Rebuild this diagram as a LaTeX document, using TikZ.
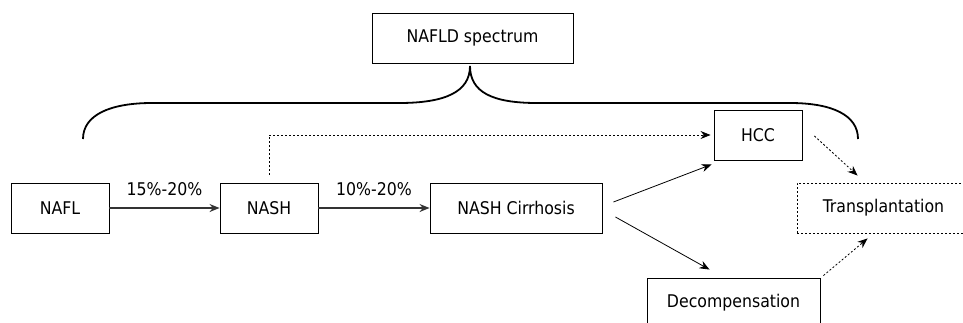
\documentclass[tikz,border=0pt]{standalone}
\usepackage{fontspec}
\setmainfont{DejaVu Sans Condensed}
\usetikzlibrary{arrows.meta,calc}

\begin{document}
\begin{tikzpicture}[x=1pt,y=-1pt,
  box/.style={draw,line width=0.9pt,minimum height=50pt,inner sep=0pt,
              font=\fontsize{17.5}{20}\selectfont},
  flow/.style={-{Stealth[length=10pt,width=8pt]},line width=1.3pt,draw=black!80},
  link/.style={-{Stealth[length=10pt,width=8pt]},line width=0.8pt},
  maybe/.style={link,dash pattern=on 2pt off 2pt},
  pct/.style={font=\fontsize{17.5}{20}\selectfont,inner sep=0pt}]
\clip (0,0) rectangle (963,322);

\node[box,minimum width=201pt] (spec)  at (472.5,38) {NAFLD spectrum};
\node[box,minimum width=98pt]  (nafl)  at (60,208)   {NAFL};
\node[box,minimum width=98pt]  (nash)  at (269,208)  {NASH};
\node[box,minimum width=172pt] (cirr)  at (516,208)  {NASH Cirrhosis};
\node[box,minimum width=88pt]  (hcc)   at (758,135)  {HCC};
\node[box,minimum width=173pt,dash pattern=on 2pt off 2pt] (trans) at (883.5,208) {Transplantation};
\node[box,minimum width=173pt] (decomp) at (733.5,303) {Decompensation};

% brace over the spectrum
\coordinate (tip) at (470,66);
\draw[line width=1.8pt] (83,139) .. controls (83,115) and (110,103) .. (152,103)
  -- (399,103) .. controls (445,103) and (470,92) .. (tip)
  .. controls (470,92) and (492,103) .. (537,103)
  -- (790,103) .. controls (832,103) and (858,115) .. (858,139);

\draw[flow] (nafl) -- node[pct,above=12pt] {15\%-20\%} (nash);
\draw[flow] (nash) -- node[pct,above=12pt] {10\%-20\%} (cirr);
\draw[maybe,shorten <=8pt,shorten >=3pt] (nash.north) |- (hcc.west);
\draw[link] ([xshift=11pt,yshift=6pt]cirr.east) -- ([xshift=-2pt,yshift=-4pt]hcc.south west);
\draw[link] ([xshift=13pt,yshift=-9pt]cirr.east) -- ([xshift=-24pt,yshift=8pt]decomp.north);
\draw[maybe] ([xshift=12pt,yshift=-1pt]hcc.east) -- ([xshift=61pt,yshift=7pt]trans.north west);
\draw[maybe] ([xshift=3pt,yshift=2pt]decomp.north east) -- ([xshift=71pt,yshift=-5pt]trans.south west);
\end{tikzpicture}
\end{document}
